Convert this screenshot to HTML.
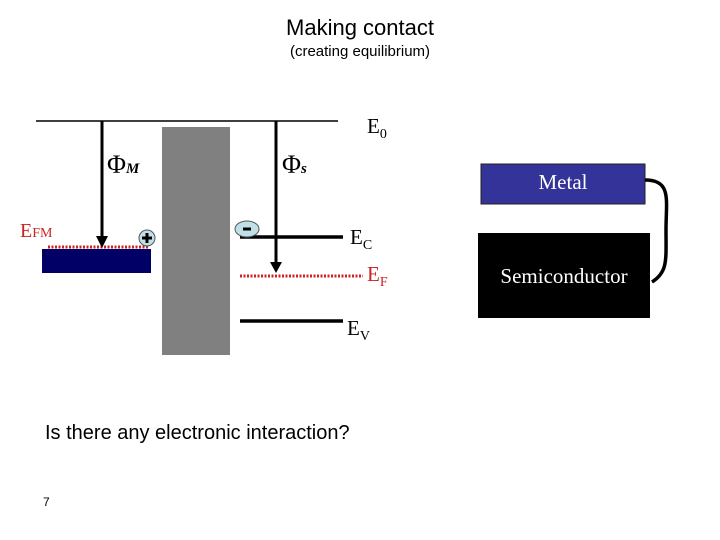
<!DOCTYPE html>
<html><head><style>
body{margin:0;width:720px;height:540px;background:#fff;overflow:hidden;position:relative;font-family:"Liberation Sans",sans-serif}
.t{position:absolute;white-space:nowrap}
.s{font-family:"Liberation Serif",serif}
</style></head><body>
<div class="t" style="left:0;width:720px;text-align:center;top:15px;font-size:22px">Making contact</div>
<div class="t" style="left:0;width:720px;text-align:center;top:43px;font-size:15px">(creating equilibrium)</div>
<svg width="720" height="540" style="position:absolute;left:0;top:0">
<defs><marker id="a" markerWidth="8" markerHeight="8" refX="4" refY="6" orient="auto" markerUnits="userSpaceOnUse"><path d="M0,0 L8,0 L4,8z" fill="#000" transform="rotate(-90 4 4)"/></marker></defs>
<line x1="36" y1="121" x2="338" y2="121" stroke="#000" stroke-width="1.5"/>
<rect x="162" y="127" width="68" height="228" fill="#808080"/>
<rect x="42" y="249" width="109" height="24" fill="#000066"/>
<line x1="48" y1="247" x2="148" y2="247" stroke="#cc2222" stroke-width="3" stroke-dasharray="2,1.5"/>
<line x1="102" y1="121" x2="102" y2="238" stroke="#000" stroke-width="3"/>
<path d="M96,236 L108,236 L102,248z" fill="#000"/>
<line x1="276" y1="121" x2="276" y2="263" stroke="#000" stroke-width="3"/>
<path d="M270,262 L282,262 L276,273z" fill="#000"/>
<line x1="240" y1="237" x2="343" y2="237" stroke="#000" stroke-width="3.5"/>
<line x1="240" y1="276" x2="363" y2="276" stroke="#cc2222" stroke-width="3" stroke-dasharray="2,1.5"/>
<line x1="240" y1="321" x2="343" y2="321" stroke="#000" stroke-width="3.5"/>
<circle cx="147" cy="238" r="8" fill="#bfe0e6" stroke="#555" stroke-width="1"/>
<path d="M142,238 H152 M147,233 V243" stroke="#000" stroke-width="3"/>
<ellipse cx="247" cy="229" rx="12" ry="8" fill="#bfe0e6" stroke="#555"/>
<line x1="243" y1="229" x2="251" y2="229" stroke="#000" stroke-width="3"/>
<rect x="481" y="164" width="164" height="40" fill="#333399" stroke="#222" stroke-width="1"/>
<rect x="478" y="233" width="172" height="85" fill="#000"/>
<path d="M645,180 C672,180 666,200 666,230 C666,260 668,272 652,282" fill="none" stroke="#000" stroke-width="3.5"/>
</svg>
<div class="t s" style="left:107px;top:150px;font-size:26px">Φ<span style="font-size:15px;font-weight:bold;font-style:italic">M</span></div>
<div class="t s" style="left:282px;top:150px;font-size:26px">Φ<span style="font-size:15px;font-weight:bold;font-style:italic">s</span></div>
<div class="t s" style="left:367px;top:114px;font-size:21px">E<sub style="font-size:14px">0</sub></div>
<div class="t s" style="left:20px;top:220px;font-size:20px;color:#cc2222">E<span style="font-size:14px">FM</span></div>
<div class="t s" style="left:350px;top:225px;font-size:21px">E<sub style="font-size:14px">C</sub></div>
<div class="t s" style="left:367px;top:262px;font-size:21px;color:#cc2222">E<sub style="font-size:14px">F</sub></div>
<div class="t s" style="left:347px;top:316px;font-size:21px">E<sub style="font-size:14px">V</sub></div>
<div class="t s" style="left:481px;top:170px;width:164px;text-align:center;font-size:21px;color:#fff">Metal</div>
<div class="t s" style="left:478px;top:264px;width:172px;text-align:center;font-size:21px;color:#fff">Semiconductor</div>
<div class="t" style="left:45px;top:422px;font-size:20px">Is there any electronic interaction?</div>
<div class="t" style="left:43px;top:495px;font-size:12px">7</div>
</body></html>
